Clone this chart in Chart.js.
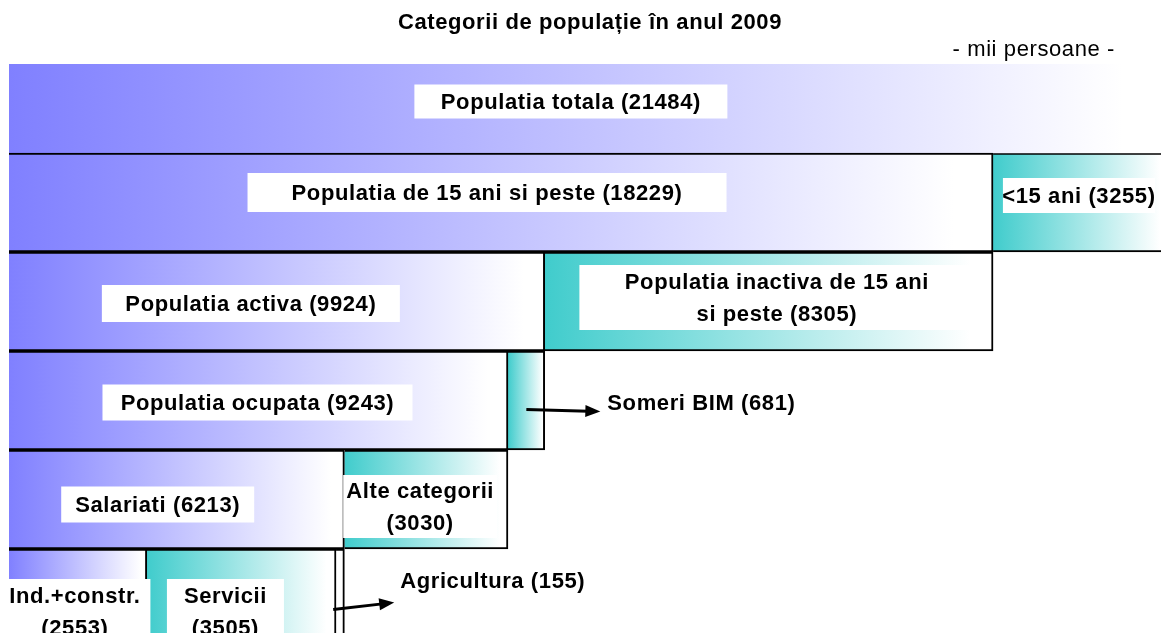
<!DOCTYPE html>
<html>
<head>
<meta charset="utf-8">
<script src="https://cdn.jsdelivr.net/npm/chart.js@4"></script>
<style>
html, body { margin: 0; padding: 0; background: #fff; overflow: hidden; }
#wrap { width: 1161px; height: 648px; }
</style>
</head>
<body>
<div id="wrap"><canvas id="chart_populatie"></canvas></div>
<script>
// mii persoane, 2009
var rows = ['totala', '15+', 'activa', 'ocupata', 'salariati', 'ramuri']
var firstPart = [21484, 18229, 9924, 9243, 6213, 2553]
var secondPart = [null, 3255, 8305, 681, 3030, 3505]
var thirdPart = [null, null, null, null, null, 155]

var firstNames = ['Populatia totala', 'Populatia de 15 ani si peste', 'Populatia activa', 'Populatia ocupata', 'Salariati', 'Ind.+constr.\n']
var secondNames = [null, '<15 ani', 'Populatia inactiva de 15 ani\nsi peste', 'Someri BIM', 'Alte categorii\n', 'Servicii\n']
var thirdNames = [null, null, null, null, null, 'Agricultura']

var chartTitle = 'Categorii de populație în anul 2009'
var unitText = '- mii persoane -'

var parts = [firstPart, secondPart, thirdPart]
var names = [firstNames, secondNames, thirdNames]

// white label boxes: which segment, box size and nudge from the segment centre
var boxLabels = [
    { ds: 0, row: 0, w: 313, h: 34, dx: -18, dy: -2 },
    { ds: 0, row: 1, w: 479, h: 39, dx: -14, dy: -10 },
    { ds: 1, row: 1, w: 152, h: 35, dx: -2, dy: -7 },
    { ds: 0, row: 2, w: 298, h: 37, dx: -26, dy: 2 },
    { ds: 1, row: 2, w: 395, h: 65, dx: 8, dy: -4 },
    { ds: 0, row: 3, w: 310, h: 36, dx: -1, dy: 2 },
    { ds: 0, row: 4, w: 193, h: 36, dx: -19, dy: 5 },
    { ds: 1, row: 4, w: 154, h: 63, dx: -6, dy: 7 },
    { ds: 0, row: 5, w: 151, h: 65, dx: -3, dy: 13 },
    { ds: 1, row: 5, w: 117, h: 65, dx: -16, dy: 13 }
]
// labels outside the bar, with an arrow
var callouts = [
    { ds: 1, row: 3, ax0: 0, ay0: 9, ax1: 74, ay1: 11, tx: 81, ty: 3 },
    { ds: 2, row: 5, ax0: -7, ay0: 11, ax1: 54, ay1: 4, tx: 60, ty: -17 }
]

var BOLD = 'bold 22px "Liberation Sans", Arial, sans-serif'
var NORMAL = '22px "Liberation Sans", Arial, sans-serif'

function labelLines(ds, row) {
    var txt = names[ds][row] + ' (' + parts[ds][row] + ')'
    return txt.split('\n').map(function (s) { return s.trim() })
}

function fade(color, endStop) {
    return function (c) {
        var chart = c.chart
        if (c.type !== 'data' || !chart.chartArea) return color
        var i = c.dataIndex, d = c.datasetIndex
        var start = 0
        for (var k = 0; k < d; k++) start += parts[k][i] || 0
        var xs = chart.scales.x
        var x0 = xs.getPixelForValue(start)
        var x1 = xs.getPixelForValue(start + (parts[d][i] || 0))
        var g = chart.ctx.createLinearGradient(x0, 0, x0 + (x1 - x0) * endStop, 0)
        g.addColorStop(0, color)
        g.addColorStop(1, '#ffffff')
        return g
    }
}

var textPlugin = {
    id: 'textPlugin',
    afterDatasetsDraw: function (chart) {
        var ctx = chart.ctx
        ctx.save()
        ctx.letterSpacing = '0.6px'
        ctx.fillStyle = '#000'
        ctx.textBaseline = 'middle'
        ctx.font = BOLD
        ctx.textAlign = 'center'
        ctx.fillText(chartTitle, 590, 23)
        ctx.font = NORMAL
        ctx.textAlign = 'right'
        ctx.fillText(unitText, 1115, 50)

        ctx.font = BOLD
        ctx.textAlign = 'center'
        boxLabels.forEach(function (b) {
            var el = chart.getDatasetMeta(b.ds).data[b.row]
            var cx = (el.x + el.base) / 2 + b.dx
            var cy = el.y + b.dy
            ctx.fillStyle = '#fff'
            ctx.fillRect(cx - b.w / 2, cy - b.h / 2, b.w, b.h)
            ctx.fillStyle = '#000'
            var lines = labelLines(b.ds, b.row)
            var lh = 32
            lines.forEach(function (ln, j) {
                ctx.fillText(ln, cx, cy + 1 + (j - (lines.length - 1) / 2) * lh)
            })
        })

        ctx.textAlign = 'left'
        callouts.forEach(function (a) {
            var el = chart.getDatasetMeta(a.ds).data[a.row]
            var cx = (el.x + el.base) / 2
            var x0 = cx + a.ax0, y0 = el.y + a.ay0
            var x1 = cx + a.ax1, y1 = el.y + a.ay1
            var ang = Math.atan2(y1 - y0, x1 - x0)
            ctx.strokeStyle = '#000'
            ctx.lineWidth = 3
            ctx.beginPath()
            ctx.moveTo(x0, y0)
            ctx.lineTo(x1 - 12 * Math.cos(ang), y1 - 12 * Math.sin(ang))
            ctx.stroke()
            ctx.beginPath()
            ctx.moveTo(x1, y1)
            ctx.lineTo(x1 - 15 * Math.cos(ang) + 6 * Math.sin(ang), y1 - 15 * Math.sin(ang) - 6 * Math.cos(ang))
            ctx.lineTo(x1 - 15 * Math.cos(ang) - 6 * Math.sin(ang), y1 - 15 * Math.sin(ang) + 6 * Math.cos(ang))
            ctx.closePath()
            ctx.fill()
            ctx.fillText(labelLines(a.ds, a.row)[0], cx + a.tx, el.y + a.ty)
        })
        ctx.restore()
    }
}

var ctx = document.getElementById('chart_populatie')

var chart_populatie = new Chart(ctx, {
    type: 'bar',
    data: {
        labels: rows,
        datasets: [{
            data: firstPart,
            backgroundColor: fade('#8080ff', 0.96),
            borderWidth: function (c) { return c.dataIndex === 0 ? 0 : 2 },
            clip: { left: 0, top: -10, right: 0, bottom: 0 }
        }, {
            data: secondPart,
            backgroundColor: fade('#40cccc', 0.95),
            borderWidth: 2
        }, {
            data: thirdPart,
            backgroundColor: '#ffffff',
            borderWidth: 2
        }]
    },
    options: {
        indexAxis: 'y',
        responsive: true,
        maintainAspectRatio: false,
        animation: false,
        layout: { padding: { top: 54, left: 9, right: 0, bottom: 0 } },
        datasets: {
            bar: {
                barPercentage: 1,
                categoryPercentage: 1,
                borderColor: '#000',
                borderSkipped: 'start'
            }
        },
        scales: {
            x: { display: false, stacked: true, min: 0, max: 21340 },
            y: { display: false, stacked: true }
        },
        plugins: {
            legend: { display: false },
            tooltip: { enabled: false }
        }
    },
    plugins: [textPlugin]
})
</script>
</body>
</html>
